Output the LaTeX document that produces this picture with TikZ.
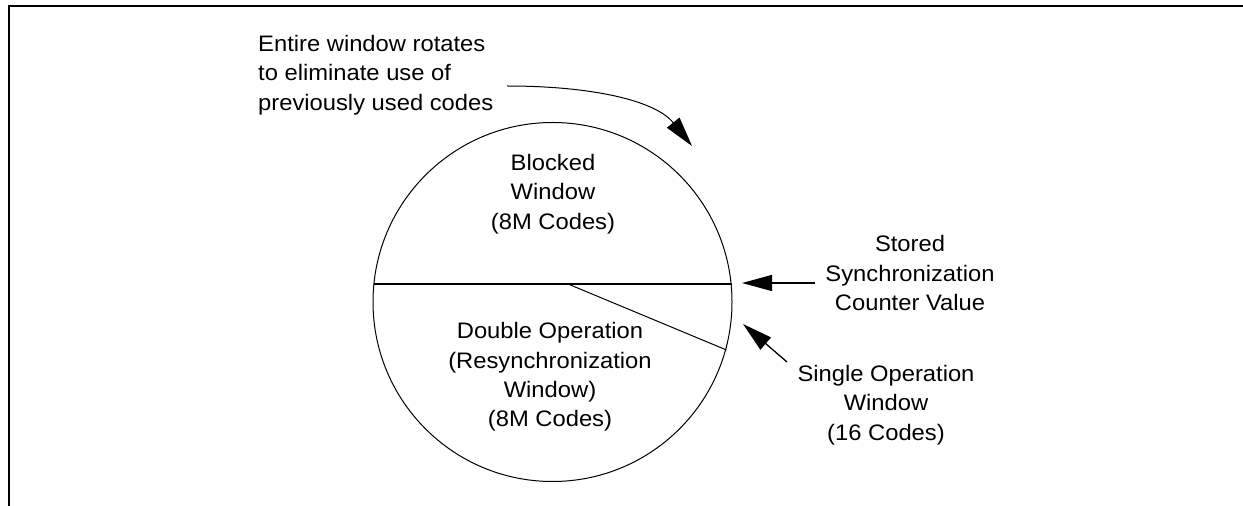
\documentclass[tikz,border=0pt]{standalone}
\usepackage{fontspec}
\setmainfont{Liberation Sans}[FakeStretch=1.06]
\usetikzlibrary{arrows.meta}
\begin{document}
\begin{tikzpicture}[x=1bp,y=-1bp,
  lbl/.style={font=\fontsize{22.5}{29.5}\selectfont, align=center, inner sep=0pt},
  ptr/.style={line width=1.3bp, -{Triangle[length=30bp,width=16bp]}},
  thin/.style={line width=1bp}]
\useasboundingbox (0,0) rectangle (1243,506);
% frame
\draw[line width=2.2bp] (9,506) -- (9,6) -- (1243,6);
% circle
\node[circle, draw, thin, minimum size=359bp, inner sep=0pt] (c) at (552.5,302) {};
\coordinate (cl) at (373.5,284);
\coordinate (cr) at (731.5,284);
\coordinate (cm) at (568,284);
\coordinate (cs) at (726.5,350);
\draw[line width=1.6bp] (cl) -- (cr);
\draw[thin] (cm) -- (cs);
% texts
\node[lbl, align=left, anchor=north west] (rot) at (258,35) {Entire window rotates\\to eliminate use of\\previously used codes};
\node[lbl] (blk) at (553,194) {Blocked\\Window\\(8M Codes)};
\node[lbl] (dbl) at (550,377) {Double Operation\\(Resynchronization\\Window)\\(8M Codes)};
\node[lbl] (sto) at (910,273) {Stored\\Synchronization\\Counter Value};
\node[lbl] (sgl) at (886,405) {Single Operation\\Window\\(16 Codes)};
% arrows
\coordinate (rs) at (507,86);
\coordinate (rt) at (692,146);
\draw[ptr, line width=1bp] (rs) .. controls (590,86) and (655,100) .. (rt);
\coordinate (ss) at (815,283);
\coordinate (st) at (742,283);
\draw[ptr] (ss) -- (st);
\coordinate (gs) at (787,362);
\coordinate (gt) at (743,324);
\draw[ptr] (gs) -- (gt);
\end{tikzpicture}
\end{document}
